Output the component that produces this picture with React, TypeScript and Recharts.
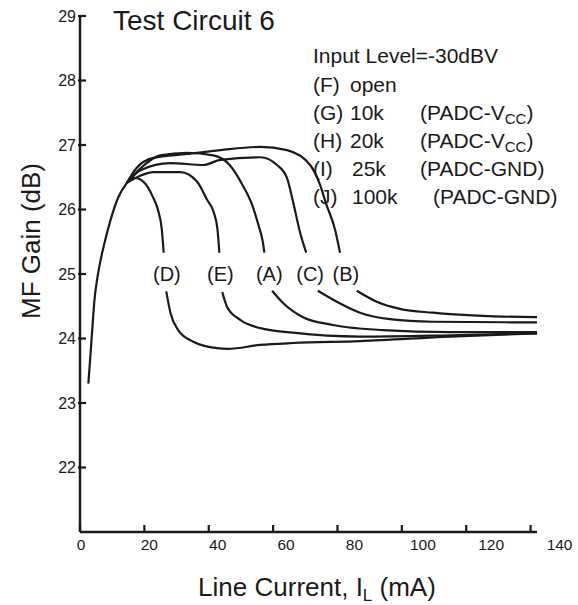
import { LineChart, Line, XAxis, YAxis, ReferenceDot, Label } from 'recharts';

const FONT = '"Liberation Sans", Arial, sans-serif';
const INK = '#1a1a1a';

// shared rising part, all curves leave from the same point
const riseX = [2.6, 3.8, 4.5, 5.3, 6.1, 7.6, 9.5, 11.9, 14.5];
const riseY = [23.3, 24.13, 24.6, 24.91, 25.14, 25.48, 25.84, 26.19, 26.41];

// each curve: part above its label, part below its label
const dTopX = [14.5, 17.0, 20.3, 22.6, 24.3, 25.4, 26.0];
const dTopY = [26.41, 26.49, 26.4, 26.2, 25.98, 25.7, 25.33];
const dLowX = [26.8, 28.1, 30.5, 35.2, 42.6, 46.0, 56.0, 66.2, 87.0, 115.0, 142.0];
const dLowY = [24.73, 24.4, 24.13, 23.95, 23.85, 23.84, 23.9, 23.93, 23.96, 24.03, 24.08];

const eTopX = [14.5, 18.5, 22.8, 31.2, 36.4, 39.5, 41.6, 42.7, 43.3];
const eTopY = [26.41, 26.52, 26.58, 26.58, 26.43, 26.15, 25.95, 25.7, 25.33];
const eLowX = [44.2, 45.7, 49.8, 56.0, 66.2, 87.0, 115.0, 142.0];
const eLowY = [24.72, 24.49, 24.29, 24.16, 24.09, 24.03, 24.05, 24.08];

const aTopX = [14.5, 18.8, 24.9, 33.3, 41.4, 46.5, 50.5, 53.5, 55.5, 56.8, 57.3];
const aTopY = [26.41, 26.64, 26.84, 26.88, 26.84, 26.69, 26.38, 26.07, 25.75, 25.5, 25.33];
const aLowX = [59.7, 63.1, 69.3, 78.6, 94.1, 114.9, 142.0];
const aLowY = [24.74, 24.55, 24.33, 24.21, 24.13, 24.1, 24.1];

const cTopX = [14.5, 18.8, 28.1, 38.3, 43.6, 56.0, 61.2, 64.3, 66.2, 68.4, 70.3];
const cTopY = [26.41, 26.61, 26.72, 26.69, 26.77, 26.81, 26.69, 26.49, 26.12, 25.64, 25.33];
const cLowX = [73.9, 79.8, 87.0, 96.3, 109.6, 142.0];
const cLowY = [24.74, 24.57, 24.4, 24.3, 24.26, 24.25];

const bTopX = [14.5, 17.5, 22.8, 33.3, 43.6, 56.0, 64.3, 71.5, 74.6, 76.4, 79.3, 80.8];
const bTopY = [26.41, 26.64, 26.8, 26.86, 26.92, 26.97, 26.92, 26.69, 26.38, 26.1, 25.68, 25.33];
const bLowX = [86.0, 92.2, 99.4, 109.6, 125.1, 142.0];
const bLowY = [24.74, 24.57, 24.46, 24.4, 24.35, 24.33];

const curveNames = ['(D)', '(E)', '(A)', '(C)', '(B)'];
const labelX = [27.0, 43.6, 58.8, 71.5, 82.6];
const labelY = [25.0, 25.0, 25.0, 25.0, 25.0];

const xTicks = [0, 20, 40, 60, 80, 100, 120, 140];
const yTicks = [22, 23, 24, 25, 26, 27, 28, 29];

const zip = (xs: number[], ys: number[]) => xs.map((x, i) => ({ x, y: ys[i] as number | null }));

// join the two parts with a null so the line breaks where the label sits
const withGap = (tx: number[], ty: number[], lx: number[], ly: number[]) => [
  ...zip(tx, ty),
  { x: (tx[tx.length - 1] + lx[0]) / 2, y: null },
  ...zip(lx, ly),
];

const riseData = zip(riseX, riseY);
const curves = [
  withGap(dTopX, dTopY, dLowX, dLowY),
  withGap(eTopX, eTopY, eLowX, eLowY),
  withGap(aTopX, aTopY, aLowX, aLowY),
  withGap(cTopX, cTopY, cLowX, cLowY),
  withGap(bTopX, bTopY, bLowX, bLowY),
];

const XTick = (props: any) => {
  const { x, y, payload, index } = props;
  const ay = y - 8;
  return (
    <g>
      <line x1={x} x2={x} y1={ay} y2={ay - 7} stroke={INK} strokeWidth={2.2} />
      <text x={x + index * 4 + 1} y={ay + 18} textAnchor="middle" fontSize={15.5} fill={INK}>
        {payload.value}
      </text>
    </g>
  );
};

const YTick = (props: any) => {
  const { x, y, payload } = props;
  const ax = x + 8;
  return (
    <g>
      <line x1={ax - 2} x2={ax + 6} y1={y} y2={y} stroke={INK} strokeWidth={2.2} />
      <text x={ax - 4} y={y + 5.5} textAnchor="end" fontSize={16} fill={INK}>
        {payload.value}
      </text>
    </g>
  );
};

const legendRows = [
  { key: '(F)', val: 'open', pad: '', sub: '', valX: 350, padX: 420 },
  { key: '(G)', val: '10k', pad: '(PADC-V', sub: 'CC', valX: 350, padX: 420 },
  { key: '(H)', val: '20k', pad: '(PADC-V', sub: 'CC', valX: 350, padX: 420 },
  { key: '(I)', val: '25k', pad: '(PADC-GND)', sub: '', valX: 352, padX: 420 },
  { key: '(J)', val: '100k', pad: '(PADC-GND)', sub: '', valX: 352, padX: 433 },
];

export default function App() {
  return (
    <div style={{ position: 'relative', width: 578, height: 605, fontFamily: FONT }}>
      <style>{`body{margin:0}`}</style>
      <LineChart
        width={578}
        height={605}
        margin={{ top: 16, right: 41, bottom: 0, left: 0 }}
        style={{ fontFamily: FONT }}
      >
        <XAxis
          type="number"
          dataKey="x"
          domain={[0, 142]}
          ticks={xTicks}
          height={73}
          axisLine={{ stroke: INK, strokeWidth: 2.5 }}
          tickLine={false}
          tickSize={6}
          tickMargin={2}
          tick={<XTick />}
          interval={0}
        >
          <Label
            content={() => (
              <text x={317} y={596} textAnchor="middle" fontSize={26} fill={INK}>
                Line Current, I
                <tspan fontSize={17} dy={5}>L</tspan>
                <tspan dy={-5}> (mA)</tspan>
              </text>
            )}
          />
        </XAxis>
        <YAxis
          type="number"
          domain={[21, 29]}
          ticks={yTicks}
          width={80}
          axisLine={{ stroke: INK, strokeWidth: 2.5 }}
          tickLine={false}
          tickSize={6}
          tickMargin={2}
          tick={<YTick />}
          interval={0}
        >
          <Label
            content={() => (
              <text x={40} y={241} textAnchor="middle" fontSize={26} fill={INK} transform="rotate(-90, 40, 241)">
                MF Gain (dB)
              </text>
            )}
          />
        </YAxis>
        <Line
          data={riseData}
          dataKey="y"
          type="monotone"
          stroke={INK}
          strokeWidth={2.2}
          dot={false}
          isAnimationActive={false}
        />
        {curves.map((d, i) => (
          <Line
            key={curveNames[i]}
            data={d}
            dataKey="y"
            name={curveNames[i]}
            type="monotone"
            stroke={INK}
            strokeWidth={2.2}
            dot={false}
            connectNulls={false}
            isAnimationActive={false}
          />
        ))}
        {curveNames.map((n, i) => (
          <ReferenceDot
            key={'lbl' + n}
            x={labelX[i]}
            y={labelY[i]}
            r={0}
            fill="none"
            stroke="none"
            label={{ value: n, position: 'center', fontSize: 20, fill: INK }}
          />
        ))}
      </LineChart>
      <svg
        width={578}
        height={605}
        style={{ position: 'absolute', left: 0, top: 0, pointerEvents: 'none', fontFamily: FONT }}
      >
        <text x={113} y={30} fontSize={28} fill={INK}>Test Circuit 6</text>
        <text x={313} y={63} fontSize={21} fill={INK}>Input Level=-30dBV</text>
        {legendRows.map((r, i) => {
          const y = 92 + i * 28;
          return (
            <g key={r.key}>
              <text x={313} y={y} fontSize={21} fill={INK}>{r.key}</text>
              <text x={r.valX} y={y} fontSize={21} fill={INK}>{r.val}</text>
              {r.pad && (
                <text x={r.padX} y={y} fontSize={21} fill={INK}>
                  {r.pad}
                  {r.sub && (
                    <>
                      <tspan fontSize={15} dy={4}>{r.sub}</tspan>
                      <tspan dy={-4}>)</tspan>
                    </>
                  )}
                </text>
              )}
            </g>
          );
        })}
      </svg>
    </div>
  );
}
